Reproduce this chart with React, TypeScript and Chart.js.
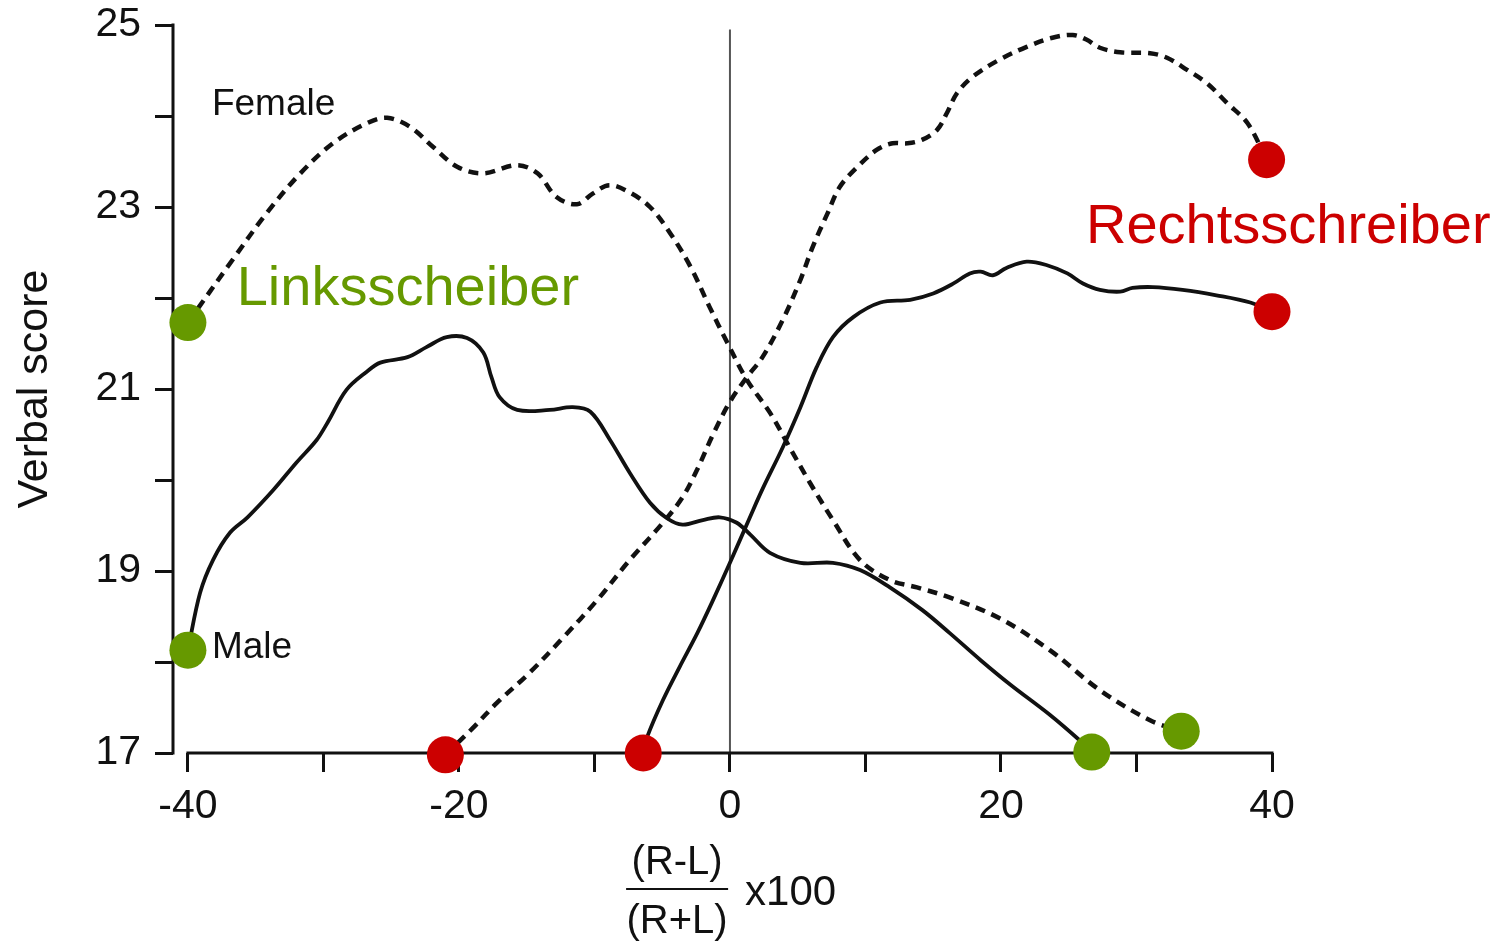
import React, { useEffect, useRef } from 'react';
import { Chart, registerables } from 'chart.js';

Chart.register(...registerables);

const FONT = '"Liberation Sans", Arial, Helvetica, sans-serif';
const INK = '#111111';
const GREEN = '#669900';
const RED = '#cc0000';

// Axis ticks
const xTickValues = [-40, -30, -20, -10, 0, 10, 20, 30, 40];
const xTickLabelled = [-40, -20, 0, 20, 40];
const yTickValues = [17, 18, 19, 20, 21, 22, 23, 24, 25];
const yTickLabelled = [17, 19, 21, 23, 25];

// Linksschreiber – Female (dashed)
const femaleLeftX = [-40, -36.7, -34.2, -31.7, -29.3, -26.8, -25.3, -23.6, -21.9, -20.1, -18.2, -15.7, -14.2, -12.8, -11.3, -10.1, -8.9, -7.4, -5.9, -4.4, -2.9, -1.5, -0.2, 1.25, 2.95, 4.4, 5.9, 7.6, 9.6, 11.8, 13.8, 16.2, 19.9, 23.6, 27.3, 31.0, 33.3];
const femaleLeftY = [21.73, 22.42, 22.93, 23.37, 23.7, 23.92, 23.98, 23.88, 23.66, 23.44, 23.37, 23.46, 23.37, 23.11, 23.03, 23.15, 23.24, 23.16, 23.0, 22.71, 22.34, 21.9, 21.51, 21.1, 20.74, 20.36, 19.97, 19.56, 19.12, 18.9, 18.82, 18.71, 18.48, 18.13, 17.69, 17.36, 17.24];

// Linksschreiber – Male (solid)
const maleLeftX = [-40, -39.1, -38.15, -36.9, -35.6, -33.7, -32.0, -30.5, -29.7, -28.3, -26.8, -25.8, -23.8, -22.4, -20.9, -19.4, -18.2, -17.6, -17.0, -15.7, -13.3, -11.6, -10.3, -8.85, -7.4, -5.9, -4.65, -3.5, -2.0, -0.75, 0.5, 1.5, 2.95, 5.2, 7.6, 9.6, 11.8, 14.2, 16.2, 18.5, 20.7, 23.6, 25.8, 26.7];
const maleLeftY = [18.13, 18.76, 19.12, 19.42, 19.59, 19.89, 20.19, 20.44, 20.63, 20.99, 21.19, 21.29, 21.35, 21.46, 21.57, 21.56, 21.4, 21.13, 20.91, 20.77, 20.77, 20.8, 20.75, 20.44, 20.08, 19.75, 19.58, 19.51, 19.56, 19.59, 19.53, 19.4, 19.2, 19.09, 19.09, 19.01, 18.82, 18.57, 18.32, 18.02, 17.75, 17.42, 17.14, 17.01];

// Rechtsschreiber – Female (dashed)
const femaleRightX = [-21.0, -19.0, -17.2, -14.8, -12.3, -9.8, -7.4, -4.95, -3.5, -2.4, -1.25, 0.0, 1.25, 2.4, 3.9, 5.2, 6.1, 7.2, 8.1, 9.4, 10.85, 12.0, 13.1, 14.2, 15.3, 16.0, 16.75, 17.9, 19.9, 21.9, 23.8, 25.3, 26.3, 27.3, 28.8, 31.0, 32.25, 33.7, 35.2, 36.7, 38.2, 39.6];
const femaleRightY = [16.98, 17.27, 17.55, 17.88, 18.27, 18.68, 19.12, 19.53, 19.81, 20.12, 20.5, 20.86, 21.13, 21.35, 21.76, 22.2, 22.56, 22.93, 23.22, 23.44, 23.63, 23.7, 23.7, 23.74, 23.85, 24.03, 24.25, 24.43, 24.62, 24.76, 24.86, 24.89, 24.84, 24.75, 24.7, 24.69, 24.64, 24.51, 24.36, 24.14, 23.92, 23.52];

// Rechtsschreiber – Male (solid)
const maleRightX = [-6.4, -6.1, -4.95, -3.7, -2.4, -1.25, 0.0, 1.5, 2.4, 3.9, 5.2, 6.4, 7.6, 9.1, 11.1, 13.3, 15.0, 16.5, 17.7, 18.5, 19.4, 20.4, 21.9, 23.4, 24.9, 26.05, 27.3, 28.8, 29.7, 31.2, 33.4, 35.9, 38.4, 40.0];
const maleRightY = [17.0, 17.18, 17.58, 17.95, 18.32, 18.68, 19.09, 19.6, 19.9, 20.36, 20.8, 21.24, 21.57, 21.79, 21.95, 21.98, 22.05, 22.16, 22.27, 22.29, 22.25, 22.33, 22.4, 22.36, 22.27, 22.16, 22.09, 22.07, 22.11, 22.12, 22.09, 22.03, 21.95, 21.85];

// Text labels and their anchor points (data coordinates)
const labelTexts = ['Female', 'Male', 'Linksscheiber', 'Rechtsschreiber'];
const labelX = [-38.23, -38.23, -36.4, 26.27];
const labelY = [24.01, 18.04, 21.92, 22.6];
const labelSizes = [37, 37, 56, 56];
const labelColors = [INK, INK, GREEN, RED];

const zip = (xs: number[], ys: number[]) => xs.map((x, i) => ({ x, y: ys[i] }));

const endRadius = (r: number) => (ctx: any) => {
  const n = ctx.dataset.data.length;
  return ctx.dataIndex === 0 || ctx.dataIndex === n - 1 ? r : 0;
};

const makeSet = (label: string, xs: number[], ys: number[], dashed: boolean, dot: string) => ({
  label,
  data: zip(xs, ys),
  borderColor: INK,
  borderWidth: dashed ? 4.5 : 3.8,
  borderDash: dashed ? [10, 7] : [],
  borderCapStyle: 'butt',
  tension: 0.35,
  fill: false,
  clip: false,
  pointRadius: endRadius(18.5),
  pointHoverRadius: endRadius(18.5),
  pointBackgroundColor: dot,
  pointBorderWidth: 0,
  pointBorderColor: dot,
});

const overlay = {
  id: 'overlay',
  beforeDatasetsDraw(chart: any) {
    const { ctx, chartArea } = chart;
    const xs = chart.scales.x;
    const ys = chart.scales.y;
    ctx.save();
    // vertical zero line
    ctx.strokeStyle = '#555555';
    ctx.lineWidth = 2;
    ctx.beginPath();
    ctx.moveTo(xs.getPixelForValue(0), ys.getPixelForValue(24.95));
    ctx.lineTo(xs.getPixelForValue(0), ys.getPixelForValue(17));
    ctx.stroke();
    // axis lines
    ctx.strokeStyle = INK;
    ctx.lineWidth = 3;
    ctx.beginPath();
    ctx.moveTo(chartArea.left, ys.getPixelForValue(25) - 1.5);
    ctx.lineTo(chartArea.left, ys.getPixelForValue(17) + 1.5);
    ctx.stroke();
    ctx.beginPath();
    ctx.moveTo(xs.getPixelForValue(-40) - 1.5, ys.getPixelForValue(17));
    ctx.lineTo(xs.getPixelForValue(40) + 1.5, ys.getPixelForValue(17));
    ctx.stroke();
    ctx.restore();
  },
  afterDraw(chart: any) {
    const { ctx } = chart;
    const xs = chart.scales.x;
    const ys = chart.scales.y;
    ctx.save();
    ctx.textBaseline = 'alphabetic';
    ctx.textAlign = 'left';
    labelTexts.forEach((t, i) => {
      ctx.font = `${labelSizes[i]}px ${FONT}`;
      ctx.fillStyle = labelColors[i];
      ctx.fillText(t, xs.getPixelForValue(labelX[i]), ys.getPixelForValue(labelY[i]));
    });
    // x-axis title as a fraction
    const cx = xs.getPixelForValue(-3.9);
    const top = xs.top;
    ctx.fillStyle = INK;
    ctx.font = `40px ${FONT}`;
    ctx.textAlign = 'center';
    ctx.fillText('(R-L)', cx, top + 121);
    ctx.fillText('(R+L)', cx, top + 180);
    ctx.fillRect(cx - 51, top + 135, 102, 2);
    ctx.textAlign = 'left';
    ctx.font = `42px ${FONT}`;
    ctx.fillText('x100', cx + 68, top + 152);
    ctx.restore();
  },
};

export default function App() {
  const ref = useRef<HTMLCanvasElement>(null);
  useEffect(() => {
    const canvas = ref.current!;
    const chart = new Chart(canvas, {
      type: 'line',
      data: {
        datasets: [
          makeSet('Linksschreiber Female', femaleLeftX, femaleLeftY, true, GREEN),
          makeSet('Linksschreiber Male', maleLeftX, maleLeftY, false, GREEN),
          makeSet('Rechtsschreiber Female', femaleRightX, femaleRightY, true, RED),
          makeSet('Rechtsschreiber Male', maleRightX, maleRightY, false, RED),
        ] as any,
      },
      options: {
        responsive: false,
        animation: false,
        devicePixelRatio: 1,
        layout: { padding: { left: 0, top: 25, right: 237, bottom: 0 } },
        plugins: { legend: { display: false }, tooltip: { enabled: false } },
        scales: {
          x: {
            type: 'linear',
            min: -41.1,
            max: 40,
            afterBuildTicks: (s: any) => {
              s.ticks = xTickValues.map((v) => ({ value: v }));
            },
            afterFit: (s: any) => {
              s.height = 192;
              s.paddingLeft = 0;
              s.paddingRight = 0;
            },
            ticks: {
              callback: (v: any) => (xTickLabelled.includes(Number(v)) ? String(v) : ''),
              font: { family: FONT, size: 41 },
              color: INK,
              padding: 10,
              maxRotation: 0,
              autoSkip: false,
            },
            grid: { drawOnChartArea: false, drawTicks: true, tickLength: 19, lineWidth: 3, color: INK, tickColor: INK },
            border: { display: false },
          },
          y: {
            type: 'linear',
            min: 17,
            max: 25,
            afterBuildTicks: (s: any) => {
              s.ticks = yTickValues.map((v) => ({ value: v }));
            },
            afterFit: (s: any) => {
              s.width = 173;
              s.paddingTop = 0;
              s.paddingBottom = 0;
            },
            ticks: {
              callback: (v: any) => (yTickLabelled.includes(Number(v)) ? String(v) : ''),
              font: { family: FONT, size: 41 },
              color: INK,
              padding: 14,
              autoSkip: false,
            },
            title: {
              display: true,
              text: 'Verbal score',
              font: { family: FONT, size: 43 },
              color: INK,
              padding: { top: 9, bottom: 0 },
            },
            grid: { drawOnChartArea: false, drawTicks: true, tickLength: 18, lineWidth: 3, color: INK, tickColor: INK },
            border: { display: false },
          },
        },
      } as any,
      plugins: [overlay],
    });
    return () => chart.destroy();
  }, []);
  return (
    <div style={{ position: 'fixed', left: 0, top: 0, width: 1509, height: 945, background: '#ffffff' }}>
      <canvas ref={ref} width={1509} height={945} style={{ display: 'block' }} />
    </div>
  );
}
